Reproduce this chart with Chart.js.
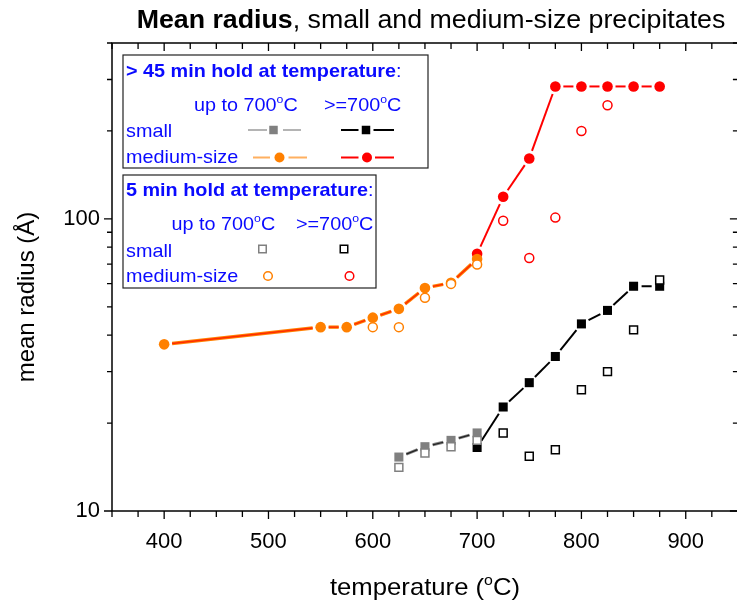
<!DOCTYPE html>
<html>
<head>
<meta charset="utf-8">
<script src="https://cdn.jsdelivr.net/npm/chart.js@4.4.1/dist/chart.umd.min.js"></script>
<style>
  html, body { margin: 0; padding: 0; background: #fff; overflow: hidden; }
  #wrap { width: 745px; height: 604px; }
</style>
</head>
<body>
<div id="wrap"><canvas id="chart" width="745" height="604"></canvas></div>
<script>
// annealing temperatures (°C)
const tempMedLow45 = [400, 550, 575, 600, 625, 650, 675, 700];
const tempSmallLow45 = [625, 650, 675, 700];
const tempHigh45 = [700, 725, 750, 775, 800, 825, 850, 875];
const tempMedLow5 = [600, 625, 650, 675, 700];
const tempSmallLow5 = [625, 650, 675, 700];
const tempMedHigh5 = [725, 750, 775, 800, 825];
const tempSmallHigh5 = [725, 750, 775, 800, 825, 850, 875];

// mean radius (Å), > 45 min hold
const mediumLow45 = [37.2, 42.6, 42.6, 45.9, 49.2, 58.0, 60.4, 72.9];
const mediumHigh45 = [75.9, 119, 161, 284, 284, 284, 284, 284];
const smallLow45 = [15.3, 16.6, 17.45, 18.5];
const smallHigh45 = [16.5, 22.7, 27.5, 33.8, 43.7, 48.6, 58.8, 58.8];

// mean radius (Å), 5 min hold
const mediumLow5 = [42.6, 42.6, 53.7, 59.9, 69.8];
const mediumHigh5 = [98.5, 73.5, 101, 200, 245];
const smallLow5 = [14.1, 15.8, 16.6, 17.45];
const smallHigh5 = [18.5, 15.4, 16.2, 26.0, 30.0, 41.7, 61.8];

// axis ticks
const xTickLabels = [400, 500, 600, 700, 800, 900];
const yTickLabels = [10, 100];
const yMinorTicks = [20, 30, 40, 50, 60, 70, 80, 90, 200, 300, 400];

const FONT = "'Liberation Sans', Arial, sans-serif";
const BLUE = '#0a0aff';
const ORANGE = '#ff8000';
const ORANGE_LIGHT = '#ffb060';
const RED = '#ff0000';
const GRAY = '#808080';
const GRAY_LIGHT = '#b4b4b4';

const pts = (xs, ys) => xs.map((x, i) => ({ x: x, y: ys[i] }));

// connecting lines, drawn with gaps around the symbols
const connectors = [
  { xs: tempMedLow45, ys: mediumLow45, color: ORANGE, width: 3.4 },
  { xs: tempMedLow45, ys: mediumLow45, color: '#ff2a00', width: 1.4 },
  { xs: tempHigh45, ys: mediumHigh45, color: RED, width: 2 },
  { xs: tempSmallLow45, ys: smallLow45, color: GRAY, width: 3 },
  { xs: tempSmallLow45, ys: smallLow45, color: '#222', width: 1.2 },
  { xs: tempHigh45, ys: smallHigh45, color: '#000', width: 2 }
];

function gappedLine(ctx, p, gap) {
  for (let i = 0; i < p.length - 1; i++) {
    const dx = p[i + 1].x - p[i].x, dy = p[i + 1].y - p[i].y;
    const d = Math.hypot(dx, dy);
    if (d <= 2 * gap) continue;
    const ux = dx / d, uy = dy / d;
    ctx.beginPath();
    ctx.moveTo(p[i].x + ux * gap, p[i].y + uy * gap);
    ctx.lineTo(p[i + 1].x - ux * gap, p[i + 1].y - uy * gap);
    ctx.stroke();
  }
}

const linePlugin = {
  id: 'gappedLines',
  beforeDatasetsDraw(chart) {
    const { ctx, chartArea, scales } = chart;
    ctx.save();
    ctx.beginPath();
    ctx.rect(chartArea.left, chartArea.top, chartArea.right - chartArea.left, chartArea.bottom - chartArea.top);
    ctx.clip();
    connectors.forEach(c => {
      const p = c.xs.map((x, i) => ({ x: scales.x.getPixelForValue(x), y: scales.y.getPixelForValue(c.ys[i]) }));
      ctx.strokeStyle = c.color;
      ctx.lineWidth = c.width;
      ctx.lineCap = 'butt';
      gappedLine(ctx, p, 8);
    });
    ctx.restore();
  }
};

// frame with minor and major ticks on all four sides
const framePlugin = {
  id: 'frame',
  afterDatasetsDraw(chart) {
    const { ctx, chartArea: a, scales } = chart;
    ctx.save();
    ctx.strokeStyle = '#000';
    ctx.lineWidth = 1.5;
    ctx.strokeRect(a.left, a.top, a.right - a.left, a.bottom - a.top);
    ctx.lineWidth = 1.3;
    ctx.beginPath();
    for (let v = scales.x.min; v <= scales.x.max; v += 25) {
      const x = scales.x.getPixelForValue(v);
      const len = v % 100 === 0 ? 8 : 6;
      ctx.moveTo(x, a.bottom); ctx.lineTo(x, a.bottom + len);
      ctx.moveTo(x, a.top); ctx.lineTo(x, a.top + len);
    }
    yTickLabels.concat(yMinorTicks).forEach(v => {
      const y = scales.y.getPixelForValue(v);
      const len = yTickLabels.includes(v) ? 8 : 5;
      ctx.moveTo(a.left, y); ctx.lineTo(a.left - len, y);
      ctx.moveTo(a.right, y); ctx.lineTo(a.right - len, y);
    });
    ctx.stroke();
    ctx.restore();
  }
};

// text runs: [text, style] with style 'b' bold, 's' superscript, '' plain
function richText(ctx, parts, x, y, size, color, align, stretch) {
  const fontFor = st => (st === 'b' ? 'bold ' : '') + (st === 's' ? size * 0.62 : size) + 'px ' + FONT;
  ctx.save();
  ctx.fillStyle = color;
  ctx.textBaseline = 'alphabetic';
  ctx.textAlign = 'left';
  let total = 0;
  parts.forEach(([t, st]) => { ctx.font = fontFor(st); total += ctx.measureText(t).width; });
  ctx.translate(x, y);
  ctx.scale(stretch, 1);
  let cx = align === 'center' ? -total / 2 : 0;
  parts.forEach(([t, st]) => {
    ctx.font = fontFor(st);
    ctx.fillText(t, cx, st === 's' ? -size * 0.42 : 0);
    cx += ctx.measureText(t).width;
  });
  ctx.restore();
}

function square(ctx, x, y, s, fill, stroke) {
  ctx.beginPath();
  ctx.rect(x - s / 2, y - s / 2, s, s);
  if (fill) { ctx.fillStyle = fill; ctx.fill(); }
  if (stroke) { ctx.strokeStyle = stroke; ctx.lineWidth = 1.5; ctx.stroke(); }
}

function circle(ctx, x, y, r, fill, stroke) {
  ctx.beginPath();
  ctx.arc(x, y, r, 0, Math.PI * 2);
  if (fill) { ctx.fillStyle = fill; ctx.fill(); }
  if (stroke) { ctx.strokeStyle = stroke; ctx.lineWidth = 1.5; ctx.stroke(); }
}

function sampleLine(ctx, x1, x2, x3, x4, y, color) {
  ctx.strokeStyle = color;
  ctx.lineWidth = 2;
  ctx.beginPath();
  ctx.moveTo(x1, y); ctx.lineTo(x2, y);
  ctx.moveTo(x3, y); ctx.lineTo(x4, y);
  ctx.stroke();
}

const textPlugin = {
  id: 'texts',
  afterDraw(chart) {
    const ctx = chart.ctx;
    const S = 1.07;
    // title and axis titles
    richText(ctx, [['Mean radius', 'b'], [', small and medium-size precipitates', '']], 431, 28, 25, '#000', 'center', S);
    richText(ctx, [['temperature (', ''], ['o', 's'], ['C)', '']], 425, 595, 24, '#000', 'center', S);
    ctx.save();
    ctx.translate(34, 297);
    ctx.rotate(-Math.PI / 2);
    richText(ctx, [['mean radius (Å)', '']], 0, 0, 24, '#000', 'center', 1);
    ctx.restore();

    // legend boxes
    ctx.save();
    ctx.strokeStyle = '#222';
    ctx.lineWidth = 1.2;
    ctx.fillStyle = '#fff';
    ctx.fillRect(123, 55, 305, 113);
    ctx.strokeRect(123, 55, 305, 113);
    ctx.fillRect(123, 175, 253, 113);
    ctx.strokeRect(123, 175, 253, 113);

    const fs = 18.5;
    richText(ctx, [['> 45 min hold at temperature', 'b'], [':', '']], 126, 77, fs, BLUE, 'left', S);
    richText(ctx, [['up to 700', ''], ['o', 's'], ['C', '']], 194, 110.5, fs, BLUE, 'left', S);
    richText(ctx, [['>=700', ''], ['o', 's'], ['C', '']], 324, 110.5, fs, BLUE, 'left', S);
    richText(ctx, [['small', '']], 126, 137, fs, BLUE, 'left', S);
    richText(ctx, [['medium-size', '']], 126, 163, fs, BLUE, 'left', S);

    sampleLine(ctx, 248, 267, 283, 301, 130, GRAY_LIGHT);
    square(ctx, 273.5, 130, 8.5, GRAY);
    sampleLine(ctx, 341, 358.5, 373.5, 394, 130, '#000');
    square(ctx, 366, 130, 8.5, '#000');
    sampleLine(ctx, 253, 270, 288.5, 307, 157.5, ORANGE_LIGHT);
    circle(ctx, 279.5, 157.5, 5, ORANGE);
    sampleLine(ctx, 341, 358.5, 375, 394, 157.5, RED);
    circle(ctx, 367, 157.5, 5, RED);

    richText(ctx, [['5 min hold at temperature', 'b'], [':', '']], 126, 196, fs, BLUE, 'left', S);
    richText(ctx, [['up to 700', ''], ['o', 's'], ['C', '']], 171.5, 230, fs, BLUE, 'left', S);
    richText(ctx, [['>=700', ''], ['o', 's'], ['C', '']], 296, 230, fs, BLUE, 'left', S);
    richText(ctx, [['small', '']], 126, 257, fs, BLUE, 'left', S);
    richText(ctx, [['medium-size', '']], 126, 281.5, fs, BLUE, 'left', S);

    square(ctx, 262.5, 249, 7.5, '#fff', GRAY);
    square(ctx, 344, 249, 7.5, '#fff', '#000');
    circle(ctx, 268, 276, 4.3, '#fff', ORANGE);
    circle(ctx, 349.5, 276, 4.3, '#fff', RED);
    ctx.restore();
  }
};

const openSquare = (data, color) => ({
  data: data, pointStyle: 'rect', pointRadius: 5.6, pointHoverRadius: 5.6,
  pointBackgroundColor: '#fff', pointBorderColor: color, pointBorderWidth: 1.5, showLine: false
});
const openCircle = (data, color) => ({
  data: data, pointStyle: 'circle', pointRadius: 4.5, pointHoverRadius: 4.5,
  pointBackgroundColor: '#fff', pointBorderColor: color, pointBorderWidth: 1.5, showLine: false
});
const filledSquare = (data, color) => ({
  data: data, pointStyle: 'rect', pointRadius: 6.4, pointHoverRadius: 6.4,
  pointBackgroundColor: color, pointBorderColor: color, pointBorderWidth: 0, showLine: false
});
const filledCircle = (data, color) => ({
  data: data, pointStyle: 'circle', pointRadius: 5.3, pointHoverRadius: 5.3,
  pointBackgroundColor: color, pointBorderColor: color, pointBorderWidth: 0, showLine: false
});

// first dataset is drawn on top
const datasets = [
  openCircle(pts(tempMedLow5, mediumLow5), ORANGE),
  openCircle(pts(tempMedHigh5, mediumHigh5), RED),
  openSquare(pts(tempSmallLow5, smallLow5), GRAY),
  openSquare(pts(tempSmallHigh5, smallHigh5), '#000'),
  filledCircle(pts(tempMedLow45, mediumLow45), ORANGE),
  filledSquare(pts(tempSmallLow45, smallLow45), GRAY),
  filledCircle(pts(tempHigh45, mediumHigh45), RED),
  filledSquare(pts(tempHigh45, smallHigh45), '#000')
];

new Chart(document.getElementById('chart').getContext('2d'), {
  type: 'scatter',
  data: { datasets: datasets },
  options: {
    responsive: false,
    animation: false,
    events: [],
    layout: { padding: { left: 0, right: 6, top: 43, bottom: 0 } },
    plugins: { legend: { display: false }, tooltip: { enabled: false }, title: { display: false } },
    scales: {
      x: {
        type: 'linear', position: 'bottom', min: 350, max: 950,
        grid: { display: false, drawTicks: false },
        border: { display: false },
        afterBuildTicks: s => { s.ticks = xTickLabels.map(v => ({ value: v })); },
        afterFit: s => { s.height = 93; },
        ticks: { color: '#000', padding: 18, font: { family: FONT, size: 22 }, maxRotation: 0, autoSkip: false,
          callback: v => String(v) }
      },
      y: {
        type: 'logarithmic', position: 'left', min: 10, max: 400,
        grid: { display: false, drawTicks: false },
        border: { display: false },
        afterBuildTicks: s => { s.ticks = yTickLabels.map(v => ({ value: v, major: true })); },
        afterFit: s => { s.width = 112; },
        ticks: { color: '#000', padding: 12, font: { family: FONT, size: 22 }, autoSkip: false,
          callback: v => String(v) }
      }
    }
  },
  plugins: [linePlugin, framePlugin, textPlugin]
});
</script>
</body>
</html>
